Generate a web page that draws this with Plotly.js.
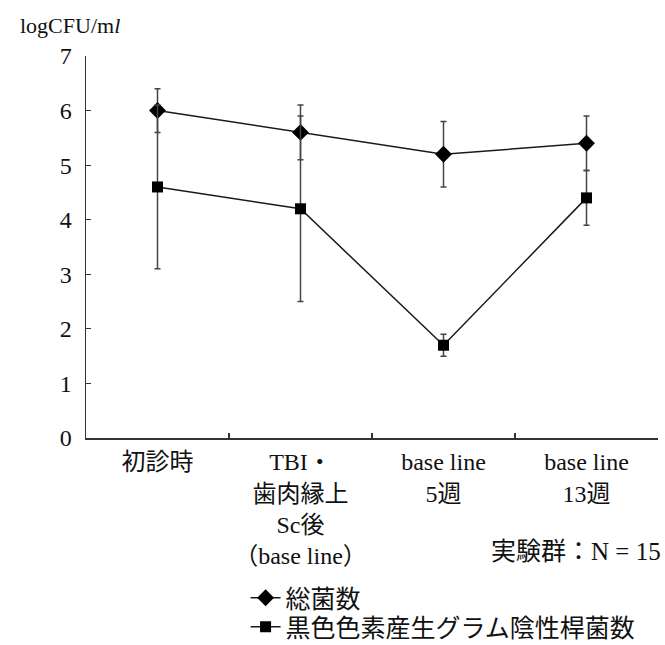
<!DOCTYPE html>
<html>
<head>
<meta charset="utf-8">
<script src="https://cdn.plot.ly/plotly-3.0.1.min.js"></script>
<style>html,body{margin:0;padding:0;background:#fff;}</style>
</head>
<body>
<div id="chart" style="width:665px;height:645px;"></div>
<script>
const categories = ["初診時", "TBI・<br>歯肉縁上<br>Sc後<br>（base line）", "base line<br>5週", "base line<br>13週"];
const totalName = "総菌数";
const totalMean = [6.0, 5.6, 5.2, 5.4];
const totalSD = [0.4, 0.5, 0.6, 0.5];
const bpName = "黒色色素産生グラム陰性桿菌数";
const bpMean = [4.6, 4.2, 1.7, 4.4];
const bpSD = [1.5, 1.7, 0.2, 0.5];
const yTicks = [0, 1, 2, 3, 4, 5, 6, 7];

const FONT = "Liberation Serif, 'Noto Sans CJK JP', serif";
const ink = "#1a1a1a";

const traces = [
  {
    x: categories, y: totalMean, name: totalName, type: "scatter", mode: "lines+markers", legend: "legend",
    line: {color: ink, width: 1.5},
    marker: {symbol: "diamond", size: 13, color: "#000"},
    error_y: {type: "data", array: totalSD, visible: true, color: "#444", thickness: 1.5, width: 3}
  },
  {
    x: categories, y: bpMean, name: bpName, type: "scatter", mode: "lines+markers", legend: "legend2",
    line: {color: ink, width: 1.5},
    marker: {symbol: "square", size: 11, color: "#000"},
    error_y: {type: "data", array: bpSD, visible: true, color: "#444", thickness: 1.5, width: 3}
  }
];

const legendBase = {
  xanchor: "left", yanchor: "middle", itemwidth: 30,
  font: {family: FONT, size: 25, color: "#111"},
  bgcolor: "rgba(0,0,0,0)"
};

const layout = {
  width: 665, height: 645,
  margin: {l: 86, r: 7, t: 56, b: 207, autoexpand: false},
  paper_bgcolor: "#fff", plot_bgcolor: "#fff",
  font: {family: FONT, size: 22, color: "#111"},
  showlegend: true,
  legend: Object.assign({}, legendBase, {x: 0.279, y: -0.419}),
  legend2: Object.assign({}, legendBase, {x: 0.279, y: -0.495}),
  xaxis: {
    type: "category", range: [-0.5, 3.5], tickson: "boundaries", ticks: "inside", ticklen: 5, tickwidth: 1.2, tickcolor: "#333",
    showline: true, linecolor: "#333", linewidth: 1.5, showgrid: false, zeroline: false, tickangle: 0,
    tickfont: {family: FONT, size: 24, color: "#111"}, ticklabelstandoff: 2
  },
  yaxis: {
    range: [0, 7], tickvals: yTicks, ticks: "inside", ticklen: 5, tickwidth: 1.2, tickcolor: "#333",
    showline: true, linecolor: "#333", linewidth: 1.5, showgrid: false, zeroline: false,
    tickfont: {family: FONT, size: 24, color: "#111"}, ticklabelstandoff: 8
  },
  annotations: [
    {text: "logCFU/m<i>l</i>", xref: "paper", yref: "paper", x: -0.119, y: 1.081, xanchor: "left", yanchor: "middle",
     showarrow: false, font: {family: FONT, size: 22, color: "#111"}},
    {text: "実験群：N = 15", xref: "paper", yref: "paper", x: 1.008, y: -0.298, xanchor: "right", yanchor: "middle",
     showarrow: false, font: {family: FONT, size: 25, color: "#111"}}
  ]
};

Plotly.newPlot("chart", traces, layout, {displayModeBar: false, staticPlot: true});
</script>
</body>
</html>
